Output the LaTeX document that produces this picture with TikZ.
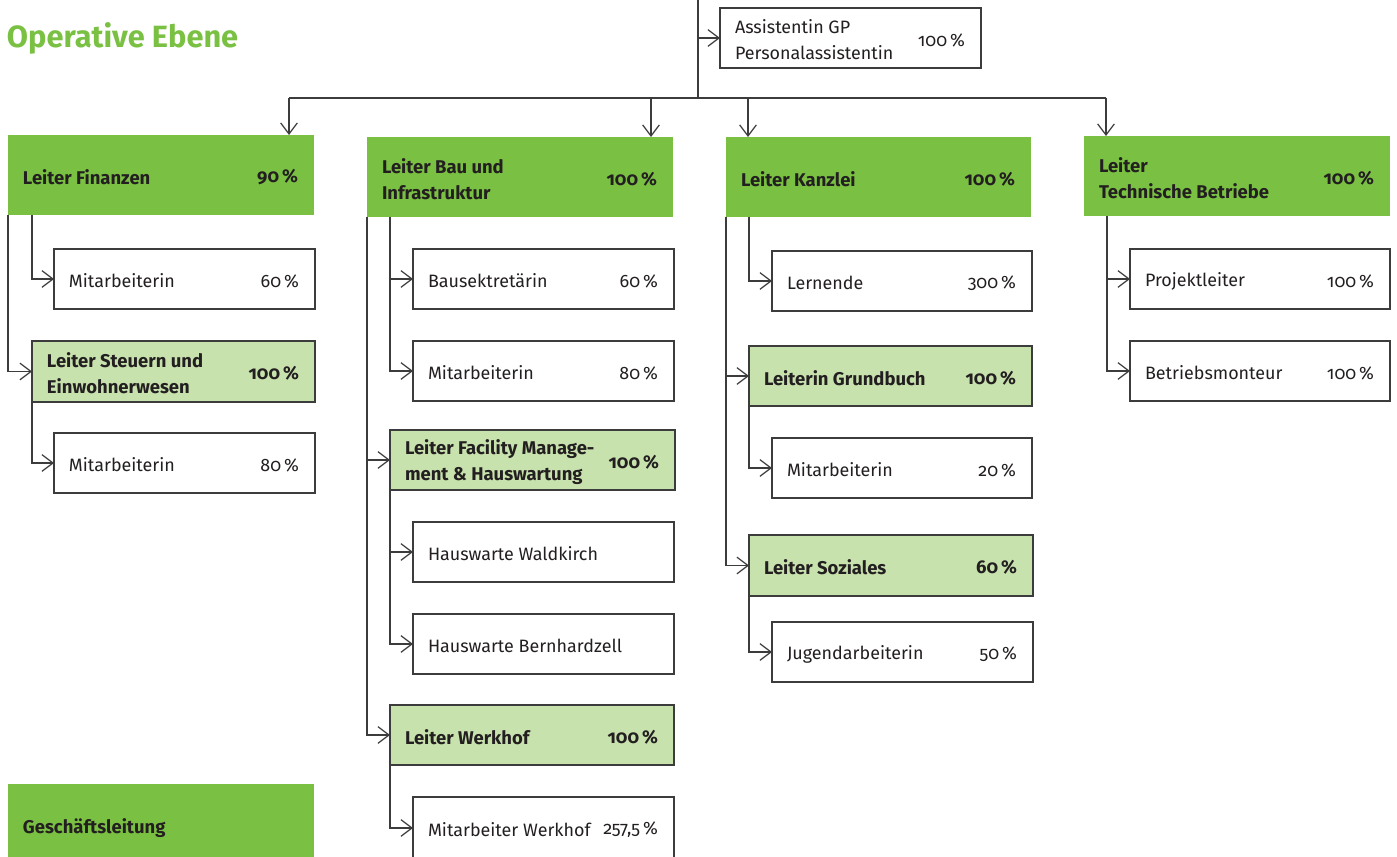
\documentclass[tikz,border=0pt]{standalone}
\usepackage{fontspec}
\setmainfont{Fira Sans}[Numbers=OldStyle]
\usetikzlibrary{arrows.meta}
\definecolor{dgreen}{RGB}{122,193,67}
\definecolor{lgreen}{RGB}{200,226,174}
\definecolor{ink}{RGB}{35,31,32}
\definecolor{linec}{RGB}{60,60,60}
\newcommand{\obox}[8]{%
  \node[#1, minimum width=#5*0.02cm, minimum height=#6*0.02cm, anchor=north west] (#2) at (#3,#4) {};
  \node[#1 text, anchor=west] (#2-l) at ([xshift=15*0.02cm, yshift=-2*0.02cm]#2.west) {#7};
  \node[#1 text, anchor=east] (#2-p) at ([xshift=-16*0.02cm, yshift=-2*0.02cm]#2.east) {#8};}
\begin{document}
\begin{tikzpicture}[x=0.02cm,y=-0.02cm,
  every node/.style={inner sep=0pt, outer sep=0pt, text=ink, font=\fontsize{10.2}{14.7}\selectfont},
  darkbox/.style={fill=dgreen, draw=none, rectangle},
  lightbox/.style={fill=lgreen, draw=linec, line width=0.7pt, rectangle},
  whitebox/.style={fill=white, draw=linec, line width=0.7pt, rectangle},
  darkbox text/.style={font=\fontsize{10.5}{14.7}\selectfont\bfseries, align=left},
  lightbox text/.style={font=\fontsize{10.5}{14.7}\selectfont\bfseries, align=left},
  whitebox text/.style={font=\fontsize{10.2}{14.7}\selectfont, align=left},
  conn/.style={draw=linec, line width=0.7pt, -{Straight Barb[length=6.3pt,width=9.5pt]}},
  plain/.style={draw=linec, line width=0.7pt},
  title/.style={font=\fontsize{17.5}{20}\selectfont\bfseries, text=dgreen}]
\useasboundingbox (0,0) rectangle (1397,857);
% title
\node[title, anchor=base west] (title) at (7,48) {Operative Ebene};
% top
\obox{whitebox}{assist}{720}{8}{261}{60}{Assistentin GP\\Personalassistentin}{100\,\%}
% level 1
\obox{darkbox}{fin}{8}{135}{306}{80}{Leiter Finanzen}{90\,\%}
\obox{darkbox}{bau}{367}{137}{306}{80}{Leiter Bau und\\Infrastruktur}{100\,\%}
\obox{darkbox}{kanz}{726}{137}{305}{80}{Leiter Kanzlei}{100\,\%}
\obox{darkbox}{tech}{1084}{136}{306}{80}{Leiter\\Technische Betriebe}{100\,\%}
\obox{darkbox}{gl}{8}{784}{306}{84}{Geschäftsleitung}{}
% Finanzen column
\obox{whitebox}{finma}{54}{249}{261}{60}{Mitarbeiterin}{60\,\%}
\obox{lightbox}{steu}{32}{341}{283}{61}{Leiter Steuern und\\Einwohnerwesen}{100\,\%}
\obox{whitebox}{steuma}{54}{433}{261}{60}{Mitarbeiterin}{80\,\%}
% Bau column
\obox{whitebox}{bsek}{413}{249}{261}{60}{Bausektretärin}{60\,\%}
\obox{whitebox}{bauma}{413}{341}{261}{60}{Mitarbeiterin}{80\,\%}
\obox{lightbox}{fac}{390}{430}{285}{60}{Leiter Facility Manage-\\ment \& Hauswartung}{100\,\%}
\obox{whitebox}{hwald}{413}{522}{261}{60}{Hauswarte Waldkirch}{}
\obox{whitebox}{hbern}{413}{614}{261}{60}{Hauswarte Bernhardzell}{}
\obox{lightbox}{werk}{390}{705}{284}{60}{Leiter Werkhof}{100\,\%}
\obox{whitebox}{werkma}{413}{797}{261}{62}{Mitarbeiter Werkhof}{257,5\,\%}
% Kanzlei column
\obox{whitebox}{lern}{772}{251}{260}{60}{Lernende}{300\,\%}
\obox{lightbox}{grund}{749}{346}{283}{60}{Leiterin Grundbuch}{100\,\%}
\obox{whitebox}{grundma}{772}{438}{260}{60}{Mitarbeiterin}{20\,\%}
\obox{lightbox}{soz}{749}{535}{284}{61}{Leiter Soziales}{60\,\%}
\obox{whitebox}{jug}{772}{622}{261}{60}{Jugendarbeiterin}{50\,\%}
% Tech column
\obox{whitebox}{proj}{1130}{249}{260}{60}{Projektleiter}{100\,\%}
\obox{whitebox}{betr}{1130}{341}{260}{60}{Betriebsmonteur}{100\,\%}
% top connectors
\coordinate (top) at (698,0);
\coordinate (hub) at (698,98);
\coordinate (hfin) at (289,98);
\coordinate (hbau) at (651,98);
\coordinate (hkanz) at (748,98);
\coordinate (htech) at (1106,98);
\draw[plain] (top) -- (hub);
\draw[plain] (hfin) -- (htech);
\draw[conn] (top |- assist.west) -- (assist.west);
\draw[conn] (hfin) -- (hfin |- fin.north);
\draw[conn] (hbau) -- (hbau |- bau.north);
\draw[conn] (hkanz) -- (hkanz |- kanz.north);
\draw[conn] (htech) -- (htech |- tech.north);
% Finanzen
\draw[conn] (fin.south west) |- (steu.west);
\draw[conn] (fin.south -| steu.west) |- (finma.west);
\draw[conn] (steu.south west) |- (steuma.west);
% Bau
\draw[conn] (bau.south west) |- (fac.west);
\draw[conn] (bau.south west) |- (werk.west);
\draw[conn] (bau.south -| fac.west) |- (bsek.west);
\draw[conn] (bau.south -| fac.west) |- (bauma.west);
\draw[conn] (fac.south west) |- (hwald.west);
\draw[conn] (fac.south west) |- (hbern.west);
\draw[conn] (werk.south west) |- (werkma.west);
% Kanzlei
\draw[conn] (kanz.south west) |- (grund.west);
\draw[conn] (kanz.south west) |- (soz.west);
\draw[conn] (kanz.south -| grund.west) |- (lern.west);
\draw[conn] (grund.south west) |- (grundma.west);
\draw[conn] (soz.south west) |- (jug.west);
% Tech
\draw[conn] (tech.south -| proj.west) ++(-23,0) coordinate (tl) |- (proj.west);
\draw[conn] (tl) |- (betr.west);
\end{tikzpicture}
\end{document}
